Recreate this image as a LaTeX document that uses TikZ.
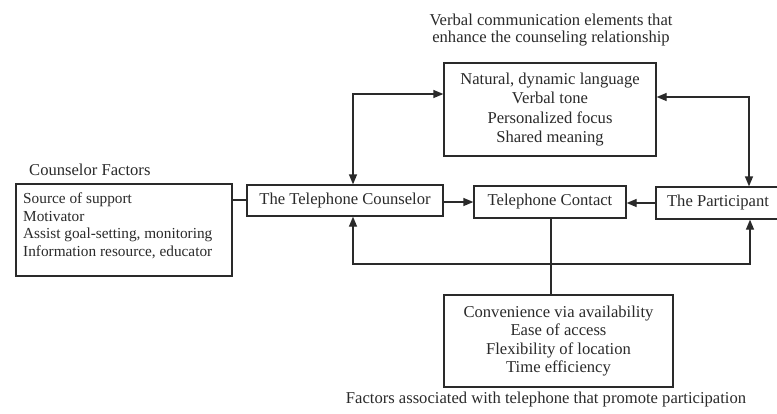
\documentclass[tikz,border=0pt]{standalone}
\usepackage{fontspec}
\setmainfont{Liberation Serif}
\usetikzlibrary{arrows.meta}
\definecolor{ink}{HTML}{2A2A2A}
\tikzset{
  box/.style={draw=ink, line width=1.3pt, inner sep=0pt, align=center, text=ink},
  conn/.style={draw=ink, line width=1.3pt},
  tip/.style={-{Triangle[length=10pt,width=8pt]}},
  tips/.style={{Triangle[length=10pt,width=8pt]}-{Triangle[length=10pt,width=8pt]}},
  lbl/.style={inner sep=0pt, align=center, text=ink},
  bigfont/.style={font=\fontsize{16.6}{18.5}\selectfont},
}
\begin{document}
\begin{tikzpicture}[x=1pt,y=-1pt]
\useasboundingbox (0,0) rectangle (777,413);
\fill[white] (0,0) rectangle (777,413);

% boxes
\node[box, minimum width=212, minimum height=93, font=\fontsize{16.6}{19.3}\selectfont] (verbal) at (550,109.5)
  {Natural, dynamic language\\Verbal tone\\Personalized focus\\Shared meaning};
\node[box, bigfont, minimum width=196, minimum height=31] (counsel) at (345,200.5) {The Telephone Counselor};
\node[box, bigfont, minimum width=152, minimum height=32] (contact) at (550,202) {Telephone Contact};
\node[box, bigfont, minimum width=124, minimum height=32] (part) at (718,203) {The Participant};
\node[box, minimum width=216, minimum height=92, align=left, font=\fontsize{15.3}{17.5}\selectfont] (factors) at (124,230) {};
\node[lbl, anchor=west, align=left, font=\fontsize{15.3}{17.5}\selectfont] (factorstext) at (23,226)
  {Source of support\\Motivator\\Assist goal-setting, monitoring\\Information resource, educator};
\node[box, minimum width=229, minimum height=92, font=\fontsize{16.6}{18.3}\selectfont] (phone) at (558.5,341)
  {Convenience via availability\\Ease of access\\Flexibility of location\\Time efficiency};

% labels
\node[lbl, font=\fontsize{16.6}{17}\selectfont] (verballbl) at (551,30)
  {Verbal communication elements that\\enhance the counseling relationship};
\node[lbl, anchor=west, font=\fontsize{16.6}{18}\selectfont] (factorslbl) at (29,170) {Counselor Factors};
\node[lbl, font=\fontsize{16.6}{18}\selectfont] (phonelbl) at (546,400)
  {Factors associated with telephone that promote participation};

% connectors
\coordinate (loopY) at (0,264);
\draw[conn] (counsel.west |- 0,200) -- (factors.east |- 0,200);
\draw[conn, tip] (counsel.east |- 0,202) -- (contact.west |- 0,202);
\draw[conn, tip] (part.west |- 0,203) -- (contact.east |- 0,203);
\draw[conn, tips] ([xshift=8pt]counsel.north) |- ([yshift=15.5pt]verbal.west);
\draw[conn, tips] ([yshift=12.5pt]verbal.east) -| ([xshift=31pt]part.north);
\draw[conn, tips] ([xshift=8pt]counsel.south) -- ([xshift=8pt]counsel.south |- loopY) -| ([xshift=32pt]part.south);
\draw[conn] (contact.south -| 551,0) -- (phone.north -| 551,0);
\end{tikzpicture}
\end{document}
